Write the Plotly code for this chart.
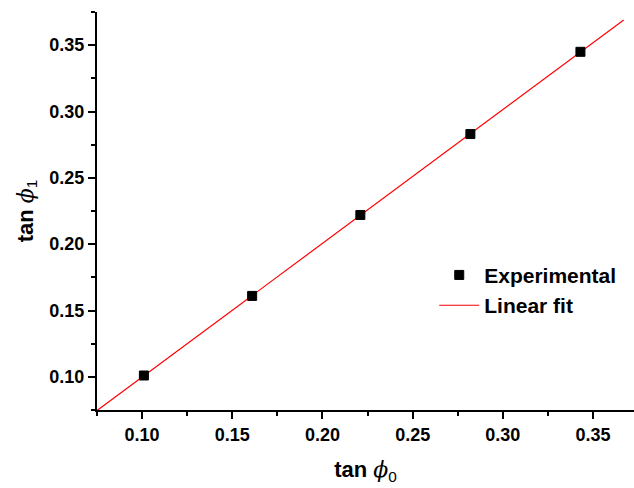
import numpy as np
import plotly.graph_objects as go

# Data
tan_phi0 = [0.101, 0.161, 0.221, 0.282, 0.343]
tan_phi1 = [0.101, 0.161, 0.222, 0.283, 0.345]
fit_x_ends = [0.075, 0.367]
x_ticks = [0.10, 0.15, 0.20, 0.25, 0.30, 0.35]
y_ticks = [0.10, 0.15, 0.20, 0.25, 0.30, 0.35]

slope, intercept = np.polyfit(tan_phi0, tan_phi1, 1)
fit_y = [slope * x + intercept for x in fit_x_ends]

fig = go.Figure()
fig.add_trace(go.Scatter(
    x=fit_x_ends, y=fit_y, mode="lines", name="Linear fit",
    line=dict(color="red", width=1.2), showlegend=False))
fig.add_trace(go.Scatter(
    x=tan_phi0, y=tan_phi1, mode="markers", name="Experimental",
    marker=dict(symbol="square", size=9, color="black",
                line=dict(color="black", width=1))))
fig.add_trace(go.Scatter(
    x=[None], y=[None], mode="lines", name="Linear fit",
    line=dict(color="red", width=1.2)))

font_main = "Liberation Sans, Arial, sans-serif"
phi = "<span style='font-family:DejaVu Serif'><i>ϕ</i></span>"

axis_common = dict(
    showline=True, linecolor="black", linewidth=2,
    ticks="outside", ticklen=7, tickwidth=2, tickcolor="black",
    showgrid=False, zeroline=False, mirror=False, automargin=False,
    tickfont=dict(family=font_main, size=18, color="black", weight="bold"),
    minor=dict(ticks="outside", ticklen=4, tickwidth=2, tickcolor="black", dtick=0.025, showgrid=False),
)

fig.update_xaxes(
    range=[0.075, 0.3727], tickvals=x_ticks,
    ticktext=[f"<b>{v:.2f}</b>" for v in x_ticks],
    title=dict(text="<b>tan</b> " + phi + "<sub>0</sub>",
               font=dict(family=font_main, size=22, color="black"), standoff=18),
    **axis_common)
fig.update_yaxes(
    range=[0.075, 0.375], tickvals=y_ticks,
    ticktext=[f"<b>{v:.2f}</b>" for v in y_ticks],
    title=dict(text="<b>tan</b> " + phi + "<sub>1</sub>",
               font=dict(family=font_main, size=22, color="black"), standoff=10),
    **axis_common)

fig.update_layout(
    width=634, height=488,
    margin=dict(l=97, r=0, t=12, b=78),
    paper_bgcolor="white", plot_bgcolor="white",
    font=dict(family=font_main, color="black"),
    hovermode=False,
    legend=dict(x=0.628, y=0.39, xanchor="left", yanchor="top",
                bgcolor="rgba(0,0,0,0)",
                font=dict(family=font_main, size=21, color="black", weight="bold"),
                tracegroupgap=0, itemwidth=40),
)

fig.write_html("out.html", config={"displayModeBar": False},
               post_script="document.body.style.margin='0';")
